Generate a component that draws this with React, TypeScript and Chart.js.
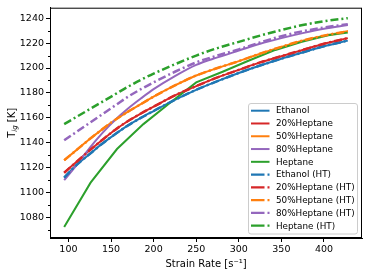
import React, { useEffect, useRef } from 'react';
import { Chart, registerables } from 'chart.js';

Chart.register(...registerables);

// ---- data ----
const strainRate = [95, 110, 125, 140, 155, 170, 185, 200, 225, 250, 275, 300, 325, 350, 375, 400, 428];
const ethanol = [1112, 1122.5, 1131, 1139.5, 1147, 1154, 1160, 1165.5, 1174.5, 1182.5, 1189.5, 1196, 1202, 1207.5, 1212.5, 1217.5, 1222];
const heptane20 = [1116, 1125, 1134, 1142.5, 1150.5, 1157.5, 1163.5, 1169, 1178, 1185.5, 1192.5, 1198.5, 1204.5, 1209.5, 1214.5, 1219.5, 1224];
const heptane50 = [1126, 1134.5, 1143, 1151, 1158.5, 1165, 1171, 1177, 1186, 1194, 1200, 1205.5, 1211.5, 1217, 1222, 1226, 1229.5];
const heptane80 = [1110, 1122.5, 1136, 1148, 1158.5, 1167.5, 1175.5, 1183, 1193.5, 1202.5, 1208.5, 1214, 1219.5, 1224, 1228, 1231.5, 1234.5];

const strainRateHeptane = [95, 126, 157, 188, 219, 250, 281, 312, 343, 374, 405, 428];
const heptane = [1072.5, 1108, 1135, 1155, 1172, 1188.5, 1197, 1206, 1214.5, 1221, 1226.3, 1228.4];

const ethanolHT = [1112, 1122.5, 1131, 1139.5, 1147, 1154, 1160, 1165.5, 1174.5, 1182.5, 1189.5, 1196, 1202, 1207.5, 1212.5, 1217.5, 1222];
const heptane20HT = [1116, 1125, 1134, 1142.5, 1150.5, 1157.5, 1163.5, 1169, 1178, 1185.5, 1192.5, 1198.5, 1204.5, 1209.5, 1214.5, 1219.5, 1224];
const heptane50HT = [1126, 1134.5, 1143, 1151, 1158.5, 1165, 1171, 1177, 1186, 1194, 1200, 1205.5, 1211.5, 1217, 1222, 1226, 1229.5];
const heptane80HT = [1142, 1149, 1156, 1163, 1170, 1177, 1183, 1188.5, 1197, 1204.5, 1210, 1215, 1220.5, 1225.5, 1229.5, 1232.5, 1235.2];
const heptaneHT = [1155, 1161, 1167, 1173, 1179, 1185, 1190.5, 1195.5, 1203, 1210, 1216, 1221, 1226, 1230.5, 1234.5, 1237.5, 1240];

const seriesLabels = [
  'Ethanol', '20%Heptane', '50%Heptane', '80%Heptane', 'Heptane',
  'Ethanol (HT)', '20%Heptane (HT)', '50%Heptane (HT)', '80%Heptane (HT)', 'Heptane (HT)',
];
const seriesColors = ['#1f77b4', '#d62728', '#ff7f0e', '#9467bd', '#2ca02c'];

const xTicks = [100, 150, 200, 250, 300, 350, 400];
const yTicks = [1080, 1100, 1120, 1140, 1160, 1180, 1200, 1220, 1240];
const yMinorTicks = [1070, 1090, 1110, 1130, 1150, 1170, 1190, 1210, 1230];

const xLabel = 'Strain Rate [s⁻¹]';
const yLabelMain = 'T';
const yLabelSub = 'ig';
const yLabelUnit = ' [K]';

const FONT = "'DejaVu Sans', sans-serif";
const DASHDOT = [8, 3, 2, 3];

function pts(xs: number[], ys: number[]) {
  return xs.map((x, i) => ({ x, y: ys[i] }));
}

const extras = {
  id: 'extras',
  afterDraw(chart: any) {
    const { ctx, chartArea: a, scales } = chart;
    ctx.save();
    // frame
    ctx.strokeStyle = '#000';
    ctx.lineWidth = 1;
    ctx.strokeRect(a.left + 0.5, a.top + 0.5, a.right - a.left - 1, a.bottom - a.top - 1);
    // minor y ticks
    ctx.beginPath();
    yMinorTicks.forEach((v) => {
      const y = Math.round(scales.y.getPixelForValue(v)) + 0.5;
      ctx.moveTo(a.left - 2, y);
      ctx.lineTo(a.left, y);
    });
    ctx.stroke();

    // x title
    ctx.fillStyle = '#000';
    ctx.font = `10px ${FONT}`;
    ctx.textAlign = 'center';
    ctx.textBaseline = 'middle';
    ctx.fillText(xLabel, (a.left + a.right) / 2, 264);

    // y title (rotated with subscript)
    ctx.save();
    ctx.translate(11, (a.top + a.bottom) / 2);
    ctx.rotate(-Math.PI / 2);
    ctx.textAlign = 'left';
    ctx.textBaseline = 'alphabetic';
    ctx.font = `10px ${FONT}`;
    const wT = ctx.measureText(yLabelMain).width;
    const wU = ctx.measureText(yLabelUnit).width;
    ctx.font = `italic 7px ${FONT}`;
    const wS = ctx.measureText(yLabelSub).width;
    const x0 = -(wT + wS + wU) / 2;
    ctx.font = `10px ${FONT}`;
    ctx.fillText(yLabelMain, x0, 3.5);
    ctx.font = `italic 7px ${FONT}`;
    ctx.fillText(yLabelSub, x0 + wT, 6);
    ctx.font = `10px ${FONT}`;
    ctx.fillText(yLabelUnit, x0 + wT + wS, 3.5);
    ctx.restore();

    // legend
    const bx = 248.5, by = 103.5, bw = 109, bh = 130.5, r = 2.5;
    ctx.beginPath();
    ctx.moveTo(bx + r, by);
    ctx.lineTo(bx + bw - r, by);
    ctx.arcTo(bx + bw, by, bx + bw, by + r, r);
    ctx.lineTo(bx + bw, by + bh - r);
    ctx.arcTo(bx + bw, by + bh, bx + bw - r, by + bh, r);
    ctx.lineTo(bx + r, by + bh);
    ctx.arcTo(bx, by + bh, bx, by + bh - r, r);
    ctx.lineTo(bx, by + r);
    ctx.arcTo(bx, by, bx + r, by, r);
    ctx.closePath();
    ctx.fillStyle = 'rgba(255,255,255,0.8)';
    ctx.fill();
    ctx.strokeStyle = '#cccccc';
    ctx.lineWidth = 1;
    ctx.stroke();

    ctx.font = `8.8px ${FONT}`;
    ctx.textAlign = 'left';
    ctx.textBaseline = 'middle';
    seriesLabels.forEach((label, i) => {
      const y = 110.7 + i * 12.78;
      const color = seriesColors[i % 5];
      ctx.strokeStyle = color;
      ctx.lineCap = 'butt';
      if (i < 5) {
        ctx.lineWidth = 2;
        ctx.beginPath();
        ctx.moveTo(251, y);
        ctx.lineTo(269.5, y);
        ctx.stroke();
      } else {
        ctx.lineWidth = 2.3;
        ctx.beginPath();
        ctx.moveTo(251, y);
        ctx.lineTo(264.5, y);
        ctx.moveTo(267.5, y);
        ctx.lineTo(269.5, y);
        ctx.stroke();
      }
      ctx.fillStyle = '#000';
      ctx.fillText(label, 276, y + 0.5);
    });
    ctx.restore();
  },
};

export default function App() {
  const ref = useRef<HTMLCanvasElement | null>(null);
  useEffect(() => {
    if (!ref.current) return;
    const solids = [
      pts(strainRate, ethanol),
      pts(strainRate, heptane20),
      pts(strainRate, heptane50),
      pts(strainRate, heptane80),
      pts(strainRateHeptane, heptane),
    ];
    const hts = [
      pts(strainRate, ethanolHT),
      pts(strainRate, heptane20HT),
      pts(strainRate, heptane50HT),
      pts(strainRate, heptane80HT),
      pts(strainRate, heptaneHT),
    ];
    const datasets: any[] = [];
    solids.forEach((d, i) => {
      datasets.push({
        label: seriesLabels[i],
        data: d,
        borderColor: seriesColors[i],
        backgroundColor: seriesColors[i],
        borderWidth: 2,
        pointRadius: 0,
        tension: 0,
        cubicInterpolationMode: i === 4 ? 'default' : 'monotone',
        order: 20 - i,
      });
    });
    hts.forEach((d, i) => {
      datasets.push({
        label: seriesLabels[i + 5],
        data: d,
        borderColor: seriesColors[i],
        backgroundColor: seriesColors[i],
        borderWidth: 2.5,
        borderDash: DASHDOT,
        pointRadius: 0,
        cubicInterpolationMode: 'monotone',
        order: 15 - i,
      });
    });

    const chart = new Chart(ref.current, {
      type: 'line',
      data: { datasets },
      options: {
        animation: false,
        responsive: false,
        maintainAspectRatio: false,
        layout: { padding: { left: 0, top: 6, right: 6, bottom: 0 } },
        plugins: { legend: { display: false }, tooltip: { enabled: false } },
        scales: {
          x: {
            type: 'linear',
            min: 78.35,
            max: 444.65,
            afterFit: (s: any) => { s.height = 38; },
            afterBuildTicks: (s: any) => { s.ticks = xTicks.map((v) => ({ value: v })); },
            grid: { drawOnChartArea: false, drawTicks: true, tickLength: 4, color: '#000' },
            border: { display: true, color: '#000', width: 1 },
            ticks: {
              font: { family: FONT, size: 9.5 }, color: '#000', padding: 2, maxRotation: 0, autoSkip: false,
              callback: (v: any) => String(v),
            },
          },
          y: {
            type: 'linear',
            min: 1063.6,
            max: 1248.4,
            afterFit: (s: any) => { s.width = 50; },
            afterBuildTicks: (s: any) => { s.ticks = yTicks.map((v) => ({ value: v })); },
            grid: { drawOnChartArea: false, drawTicks: true, tickLength: 4, color: '#000' },
            border: { display: true, color: '#000', width: 1 },
            ticks: {
              font: { family: FONT, size: 9.5 }, color: '#000', padding: 2, autoSkip: false,
              callback: (v: any) => String(v),
            },
          },
        },
      },
      plugins: [extras],
    });
    return () => chart.destroy();
  }, []);
  return (
    <div style={{ position: 'fixed', left: 0, top: 0, width: 368, height: 276, background: '#fff' }}>
      <canvas ref={ref} width={368} height={276} style={{ display: 'block' }} />
    </div>
  );
}
